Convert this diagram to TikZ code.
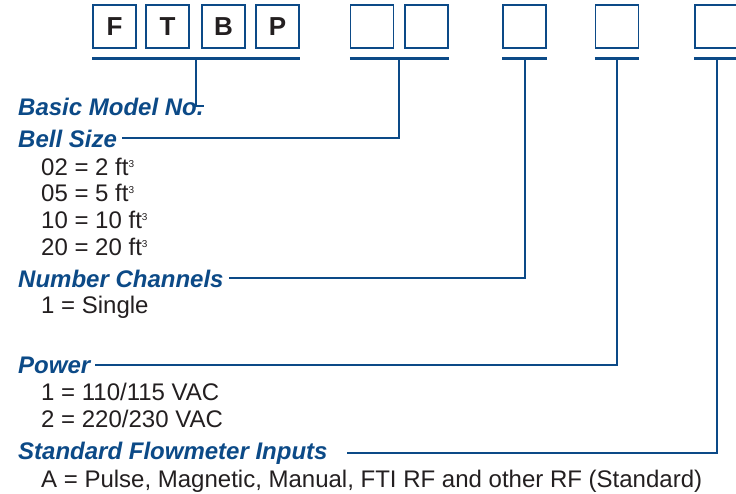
\documentclass[tikz,border=0pt]{standalone}
\usepackage{fontspec}
\setmainfont{Liberation Sans}
\usetikzlibrary{positioning}

\definecolor{codeblue}{RGB}{12,74,135}
\definecolor{textgray}{RGB}{35,31,32}
\newcommand{\cubed}{\raisebox{8pt}{\fontsize{10}{10}\selectfont 3}}

\tikzset{
    codebox/.style={draw=codeblue, line width=1.2pt, minimum width=43pt, minimum height=43pt,
        inner sep=0pt, text=textgray, font=\fontsize{26}{26}\selectfont\bfseries},
    heading/.style={anchor=base west, inner sep=0pt, text=codeblue,
        font=\fontsize{24}{24}\selectfont\bfseries\itshape},
    item/.style={anchor=base west, inner sep=0pt, text=textgray, font=\fontsize{24}{24}\selectfont},
    bar/.style={codeblue, line width=2.4pt},
    stem/.style={codeblue, line width=2pt}
}

\begin{document}
\begin{tikzpicture}[x=1pt, y=-1pt]
    \useasboundingbox (0,0) rectangle (736,493);
    \fill[white] (0,0) rectangle (736,493);

    % code boxes
    \foreach \l/\x in {F/114.5, T/167.5, B/223.5, P/277.5}
        \node[codebox] (\l) at (\x,26.5) {\l};
    \node[codebox] (size1) at (372,26.5) {};
    \node[codebox] (size2) at (426.5,26.5) {};
    \node[codebox] (chan) at (524.5,26.5) {};
    \node[codebox] (pow) at (617,26.5) {};
    \node[codebox] (inp) at (716.5,26.5) {};

    % bars under the boxes
    \draw[bar] ([yshift=-10pt]F.south west) -- coordinate (u1) ([yshift=-10pt]P.south east);
    \draw[bar] ([yshift=-10pt]size1.south west) -- coordinate (u2) ([yshift=-10pt]size2.south east);
    \draw[bar] ([yshift=-10pt]chan.south west) -- coordinate (u3) ([yshift=-10pt]chan.south east);
    \draw[bar] ([yshift=-10pt]pow.south west) -- coordinate (u4) ([yshift=-10pt]pow.south east);
    \draw[bar] ([yshift=-10pt]inp.south west) -- coordinate (u5) ([yshift=-10pt]inp.south east);

    % headings and options
    \node[heading] (basic) at (18,115) {Basic Model No.};
    \node[heading] (bell) at (18,147) {Bell Size};
    \foreach \v/\w [count=\i] in {02/2, 05/5, 10/10, 20/20}
        \node[item] (size\v) at (41,148.3+26.7*\i) {\v{} = \w{} ft\cubed};
    \node[heading] (nchan) at (18,287) {Number Channels};
    \node[item] (single) at (41,313) {1 = Single};
    \node[heading] (power) at (18,373) {Power};
    \node[item] (v110) at (41,400) {1 = 110/115 VAC};
    \node[item] (v220) at (41,427) {2 = 220/230 VAC};
    \node[heading] (flow) at (18,459) {Standard Flowmeter Inputs};
    \node[item] (pulse) at (41,487) {A = Pulse, Magnetic, Manual, FTI RF and other RF (Standard)};

    % leaders
    \draw[stem] (u1) |- (basic.east);
    \draw[stem] (u2) |- ([xshift=5pt]bell.east);
    \draw[stem] (u3) |- ([xshift=5pt]nchan.east);
    \draw[stem] (u4) |- ([xshift=5pt]power.east);
    \draw[stem] (u5) |- ([xshift=19pt]flow.east);
\end{tikzpicture}
\end{document}
